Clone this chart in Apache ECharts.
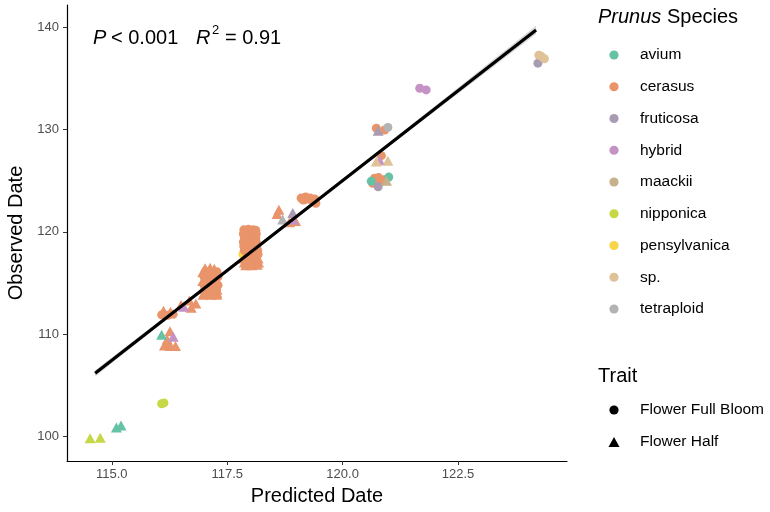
<!DOCTYPE html>
<html><head><meta charset="utf-8">
<script src="https://cdn.jsdelivr.net/npm/echarts@6/dist/echarts.min.js"></script>
<style>html,body{margin:0;padding:0;background:#fff}#chart{width:770px;height:512px}</style>
</head><body><div id="chart"></div>
<script>
const FONT = '"Liberation Sans", Arial, sans-serif';
const speciesNames = ['avium','cerasus','fruticosa','hybrid','maackii','nipponica','pensylvanica','sp.','tetraploid'];
const speciesColors = ['#66C2A5','#E9946A','#A99BB1','#C592C6','#C6B18B','#C7D846','#F8D448','#DFC298','#B3B3B3'];
const traitNames = ['Flower Full Bloom','Flower Half'];

// points: [predicted date, observed date, trait (0 = full bloom, 1 = half)]
const avium = [[115.1,100.9,1],[115.2,101.1,1],[116.08,109.95,1],[120.62,124.95,0],[121.0,125.35,0]];
const cerasus = [
  [116.26,110.3,1],[116.2,109.5,1],[116.14,108.9,1],[116.27,108.85,1],[116.38,108.85,1],[116.18,109.1,1],
  [116.12,112.3,1],[116.27,112.2,1],[116.08,111.9,0],[116.22,111.85,0],[116.33,111.95,0],
  [116.5,112.85,1],[116.68,113.3,1],[116.82,113.0,1],[116.72,112.6,1],
  [117.02,116.45,1],[117.13,116.5,1],[117.22,116.4,1],
  [116.97,116.05,1],[117.07,116.1,0],[117.18,116.0,0],[117.28,116.1,0],
  [117.0,115.6,0],[117.1,115.65,0],[117.2,115.55,0],[117.3,115.6,0],
  [116.97,115.2,1],[117.06,115.25,0],[117.16,115.2,0],[117.25,115.15,0],[117.28,115.25,1],
  [117.0,114.8,0],[117.1,114.75,0],[117.2,114.85,0],[117.3,114.8,0],
  [116.97,114.4,1],[117.07,114.35,0],[117.17,114.45,0],[117.27,114.4,0],[117.28,114.35,1],
  [117.0,114.0,1],[117.1,113.95,1],[117.2,114.05,1],[117.28,114.0,1],
  [116.98,113.85,1],[117.14,113.85,1],[117.27,113.85,1],
  [117.86,120.2,0],[117.96,120.25,0],[118.06,120.2,0],[118.12,120.15,0],
  [117.85,119.8,0],[117.95,119.8,0],[118.05,119.85,0],[118.13,119.8,0],
  [117.87,119.4,0],[117.97,119.4,0],[118.07,119.35,0],[118.12,119.4,0],
  [117.85,119.0,0],[117.95,119.0,0],[118.05,119.05,0],[118.13,119.0,0],
  [117.86,118.6,0],[117.96,118.6,0],[118.06,118.55,0],[118.14,118.6,0],
  [117.87,118.2,0],[117.97,118.2,0],[118.07,118.25,0],[118.16,118.2,0],
  [117.96,117.8,0],[118.06,117.8,0],[118.17,117.8,0],
  [117.86,117.4,1],[117.96,117.4,1],[118.07,117.35,1],[118.17,117.4,1],
  [117.87,117.0,1],[117.98,117.0,1],[118.08,117.05,1],[118.18,117.0,1],
  [117.9,116.75,1],[118.03,116.75,1],[118.15,116.8,1],
  [118.62,122.15,1],[118.58,121.75,1],[118.98,121.05,1],[118.85,120.95,1],
  [119.1,123.3,0],[119.2,123.4,0],[119.3,123.3,0],[119.4,123.2,0],[119.15,123.1,0],[119.35,123.0,0],[119.25,123.2,0],[119.42,122.8,0],
  [120.73,130.12,0],[120.91,129.95,0],
  [120.84,127.44,0],
  [120.69,125.23,0],[120.84,124.9,0],[120.65,124.75,0],[120.78,125.3,0],[120.9,125.1,0]
];
const fruticosa = [[118.92,121.85,1],[120.77,129.88,1],[120.77,124.4,0],[124.23,136.47,0]];
const hybrid = [[116.33,109.75,1],[116.56,112.7,1],[118.93,121.2,1],[120.8,127.0,1],[121.67,134.02,0],[121.81,133.86,0]];
const maackii = [[120.95,125.0,1]];
const nipponica = [[114.53,99.84,1],[114.75,99.9,1],[116.08,103.22,0],[116.13,103.3,0]];
const pensylvanica = [[117.84,117.8,0]];
const spp = [[120.73,126.86,1],[120.98,126.95,1],[124.25,137.25,0],[124.3,137.15,0],[124.37,136.9,0]];
const tetraploid = [[118.7,121.2,1],[120.98,130.2,0]];

const xTicks = [115, 117.5, 120, 122.5];
const yTicks = [100, 110, 120, 130, 140];

// regression fit and its confidence band
const regX = [114.64, 124.19];
const regY = [106.19, 139.72];
const bandX  = [114.64, 116, 117.5, 119, 120.5, 122, 124.19];
const bandLo = [105.89, 110.77, 116.1, 121.38, 126.6, 131.77, 139.32];
const bandHi = [106.49, 111.17, 116.36, 121.62, 126.94, 132.29, 140.12];

const speciesData = [avium, cerasus, fruticosa, hybrid, maackii, nipponica, pensylvanica, spp, tetraploid];
const drawOrder = [6, 1, 0, 2, 3, 4, 5, 7, 8];

const chart = echarts.init(document.getElementById('chart'), null, {renderer: 'canvas'});

const series = [];
drawOrder.forEach(i => {
  [0, 1].forEach(t => {
    const pts = speciesData[i].filter(p => p[2] === t).map(p => [p[0], p[1]]);
    if (!pts.length) return;
    series.push({
      type: 'scatter', name: speciesNames[i] + ' ' + traitNames[t], data: pts,
      symbol: t ? 'triangle' : 'circle', symbolSize: t ? [11, 10] : 9,
      itemStyle: {color: speciesColors[i], opacity: 1},
      silent: true, animation: false, z: 2
    });
  });
});
series.push({
  type: 'custom', coordinateSystem: 'cartesian2d', silent: true, animation: false, z: 3,
  data: [[bandX[0], bandLo[0]]],
  renderItem: (params, api) => {
    const pts = [];
    for (let i = 0; i < bandX.length; i++) pts.push(api.coord([bandX[i], bandHi[i]]));
    for (let i = bandX.length - 1; i >= 0; i--) pts.push(api.coord([bandX[i], bandLo[i]]));
    return {type: 'polygon', shape: {points: pts}, style: {fill: '#999999', opacity: 0.4}};
  }
});
series.push({
  type: 'line', data: [[regX[0], regY[0]], [regX[1], regY[1]]], symbol: 'none',
  lineStyle: {color: '#000', width: 3.2}, silent: true, animation: false, z: 4
});

const graphics = [];
// annotation
graphics.push({type:'text', left: 93, top: 28, style:{text:'P', font:'italic 20px ' + FONT, fill:'#000'}});
graphics.push({type:'text', left: 111, top: 28, style:{text:'< 0.001', font:'20px ' + FONT, fill:'#000'}});
graphics.push({type:'text', left: 196, top: 28, style:{text:'R', font:'italic 20px ' + FONT, fill:'#000'}});
graphics.push({type:'text', left: 212, top: 24, style:{text:'2', font:'13px ' + FONT, fill:'#000'}});
graphics.push({type:'text', left: 225, top: 28, style:{text:'= 0.91', font:'20px ' + FONT, fill:'#000'}});
// species legend
graphics.push({type:'text', left: 598, top: 7, style:{
  text:'{i|Prunus} Species', fontSize: 20, fontFamily: FONT, fill:'#000',
  rich:{i:{fontStyle:'italic', fontSize:20, fontFamily: FONT}}}});
speciesNames.forEach((n, i) => {
  const cy = 55 + 31.75 * i;
  graphics.push({type:'circle', shape:{cx:614, cy:cy, r:4.6}, style:{fill: speciesColors[i]}});
  graphics.push({type:'text', x:640, y:cy, style:{text:n, font:'15.5px ' + FONT, fill:'#000', verticalAlign:'middle'}});
});
// trait legend
graphics.push({type:'text', left: 598, top: 366, style:{text:'Trait', font:'20px ' + FONT, fill:'#000'}});
graphics.push({type:'circle', shape:{cx:614, cy:410, r:4.6}, style:{fill:'#000'}});
graphics.push({type:'polygon', shape:{points:[[608.5,447],[619.5,447],[614,437]]}, style:{fill:'#000'}});
graphics.push({type:'text', x:640, y:410, style:{text:traitNames[0], font:'15.5px ' + FONT, fill:'#000', verticalAlign:'middle'}});
graphics.push({type:'text', x:640, y:442, style:{text:traitNames[1], font:'15.5px ' + FONT, fill:'#000', verticalAlign:'middle'}});

chart.setOption({
  animation: false,
  backgroundColor: '#fff',
  textStyle: {fontFamily: FONT},
  grid: {left: 67, right: 203, top: 5, bottom: 51, containLabel: false, outerBoundsMode: 'none'},
  xAxis: {
    type: 'value', min: 114.03, max: 124.86,
    axisLine: {show: true, onZero: false, lineStyle: {color: '#000', width: 1.2}},
    axisTick: {show: true, length: 4, customValues: xTicks, lineStyle: {color: '#333'}},
    axisLabel: {customValues: xTicks, formatter: v => v.toFixed(1), color: '#4D4D4D', fontSize: 13, margin: 7, fontFamily: FONT},
    splitLine: {show: false},
    name: 'Predicted Date', nameLocation: 'middle', nameGap: 25,
    nameTextStyle: {fontSize: 20, color: '#000', fontFamily: FONT}
  },
  yAxis: {
    type: 'value', min: 97.63, max: 142.15,
    axisLine: {show: true, onZero: false, lineStyle: {color: '#000', width: 1.2}},
    axisTick: {show: true, length: 4, customValues: yTicks, lineStyle: {color: '#333'}},
    axisLabel: {customValues: yTicks, color: '#4D4D4D', fontSize: 13, margin: 8, fontFamily: FONT},
    splitLine: {show: false},
    name: 'Observed Date', nameLocation: 'middle', nameGap: 41, nameRotate: 90,
    nameTextStyle: {fontSize: 20, color: '#000', fontFamily: FONT}
  },
  series: series,
  graphic: graphics
});
</script></body></html>
